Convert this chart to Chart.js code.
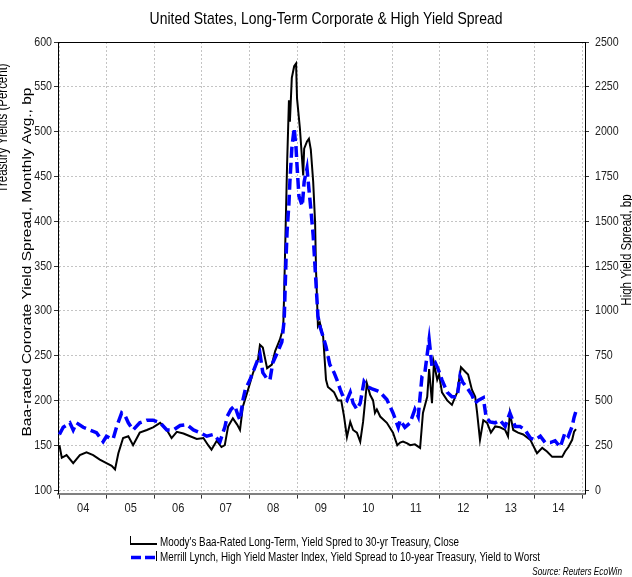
<!DOCTYPE html>
<html>
<head>
<meta charset="utf-8">
<script src="https://cdn.jsdelivr.net/npm/chart.js@4.4.1/dist/chart.umd.min.js"></script>
<style>
  html, body { margin: 0; padding: 0; background: #fff; }
</style>
</head>
<body>
<canvas id="chart" width="632" height="577"></canvas>
<script>
// Moody's Baa long-term spread (left axis, bp)
const baaYears = [
  2004.00, 2004.05, 2004.15, 2004.29, 2004.43, 2004.57, 2004.71, 2004.85, 2004.99,
  2005.10, 2005.17, 2005.24, 2005.34, 2005.45, 2005.55, 2005.69, 2005.84, 2005.97,
  2006.12, 2006.26, 2006.36, 2006.47, 2006.61, 2006.75, 2006.89,
  2007.03, 2007.13, 2007.20, 2007.31, 2007.41, 2007.48, 2007.55, 2007.65, 2007.74, 2007.80, 2007.86, 2007.97,
  2008.07, 2008.18, 2008.22, 2008.28, 2008.37, 2008.47, 2008.54, 2008.64, 2008.71, 2008.73, 2008.75, 2008.79,
  2008.83, 2008.85, 2008.89, 2008.94, 2008.98,
  2009.00, 2009.06, 2009.13, 2009.15, 2009.21, 2009.25, 2009.29, 2009.34, 2009.38, 2009.40, 2009.44, 2009.48,
  2009.55, 2009.61, 2009.65, 2009.72, 2009.78, 2009.86, 2009.93, 2009.99,
  2010.05, 2010.12, 2010.18, 2010.26, 2010.33, 2010.39, 2010.47, 2010.54, 2010.60, 2010.64, 2010.68, 2010.75, 2010.89,
  2011.02, 2011.11, 2011.17, 2011.23, 2011.32, 2011.38, 2011.48, 2011.59, 2011.65, 2011.74, 2011.78, 2011.84,
  2011.88, 2011.95, 2011.99,
  2012.05, 2012.16, 2012.26, 2012.37, 2012.45, 2012.54, 2012.60, 2012.68, 2012.75, 2012.79, 2012.85, 2012.92,
  2013.00, 2013.08, 2013.17, 2013.27, 2013.38, 2013.44, 2013.48, 2013.55, 2013.65, 2013.76, 2013.91,
  2014.05, 2014.16, 2014.26, 2014.37, 2014.47, 2014.58, 2014.64, 2014.71, 2014.79, 2014.83, 2014.87
]
const baaSpread = [
  150, 136, 139, 130, 139, 142, 139, 134, 130,
  127, 123, 141, 158, 160, 150, 164, 167, 170,
  175, 167, 158, 165, 163, 160, 157,
  158, 150, 145, 155, 148, 150, 171, 180, 173, 167, 193, 212,
  230, 246, 262, 259, 236, 240, 255, 268, 281, 321, 369, 462,
  535, 511, 560, 573, 576,
  537, 504, 451, 481, 489, 492, 480, 444, 399, 345, 283, 287,
  271, 223, 215, 212, 209, 200, 200, 182,
  159, 176, 167, 164, 154, 176, 219, 206, 200, 186, 190, 182, 175,
  164, 150, 153, 154, 152, 150, 151, 147, 186, 204, 235, 197,
  242, 223, 229,
  209, 200, 195, 209, 237, 232, 229, 212, 204, 186, 156, 178,
  175, 164, 171, 170, 167, 160, 186, 167, 164, 162, 156,
  141, 147, 143, 137, 137, 137, 143, 148, 156, 165, 168
]

// Merrill Lynch high yield master index spread (right axis, bp)
const hyYears = [
  2004.00, 2004.08, 2004.22, 2004.29, 2004.36, 2004.50, 2004.64, 2004.78, 2004.92, 2004.99,
  2005.06, 2005.13, 2005.20, 2005.31, 2005.38, 2005.45, 2005.55, 2005.69, 2005.84, 2005.97,
  2006.12, 2006.26, 2006.40, 2006.54, 2006.68, 2006.82, 2006.96,
  2007.10, 2007.24, 2007.38, 2007.44, 2007.48, 2007.53, 2007.61, 2007.69, 2007.76, 2007.80, 2007.86, 2007.91,
  2008.01, 2008.12, 2008.22, 2008.28, 2008.37, 2008.43, 2008.49, 2008.60, 2008.68, 2008.73, 2008.77, 2008.79,
  2008.83, 2008.85, 2008.89, 2008.94, 2008.98,
  2009.00, 2009.04, 2009.11, 2009.15, 2009.21, 2009.25, 2009.29, 2009.34, 2009.40, 2009.44, 2009.48,
  2009.55, 2009.61, 2009.69, 2009.78, 2009.84, 2009.91, 2009.97,
  2010.05, 2010.12, 2010.18, 2010.26, 2010.33, 2010.41, 2010.49, 2010.58, 2010.68, 2010.75, 2010.89,
  2011.02, 2011.13, 2011.17, 2011.27, 2011.38, 2011.48, 2011.55, 2011.63, 2011.69, 2011.78, 2011.84,
  2011.91, 2011.97,
  2012.05, 2012.16, 2012.26, 2012.37, 2012.43, 2012.49, 2012.58, 2012.68, 2012.75, 2012.81, 2012.92, 2012.98,
  2013.06, 2013.17, 2013.27, 2013.38, 2013.48, 2013.59, 2013.69, 2013.80, 2013.91,
  2014.01, 2014.12, 2014.22, 2014.33, 2014.43, 2014.54, 2014.64, 2014.71, 2014.79, 2014.83, 2014.87
]
const hySpread = [
  310, 350, 375, 335, 375, 350, 335, 320, 270, 300,
  290, 285, 350, 430, 415, 375, 335, 375, 390, 390,
  375, 335, 335, 360, 365, 335, 320,
  300, 310, 270, 320, 350, 410, 450, 470, 415, 390, 500, 560,
  615, 690, 760, 655, 620, 615, 710, 775, 825, 950, 1300, 1440,
  1600, 1720, 1905, 2020, 1905,
  1810, 1640, 1585, 1720, 1795, 1680, 1570, 1420, 1150, 970, 915,
  855, 800, 700, 655, 615, 560, 520,
  500, 545, 485, 450, 485, 605, 575, 565, 555, 545, 505,
  430, 350, 390, 350, 375, 450, 410, 635, 655, 840, 690,
  710, 675,
  615, 545, 520, 520, 635, 600, 570, 530, 485, 500, 515, 405,
  380, 375, 390, 355, 430, 355, 355, 335, 290,
  280, 300, 265, 265, 275, 240, 320, 300, 355, 405, 440
]

const yearStarts = [2004, 2005, 2006, 2007, 2008, 2009, 2010, 2011, 2012, 2013, 2014, 2015]
const yearLabels = ['04', '05', '06', '07', '08', '09', '10', '11', '12', '13', '14']
const leftTicks = [100, 150, 200, 250, 300, 350, 400, 450, 500, 550, 600]
const rightTicks = [0, 250, 500, 750, 1000, 1250, 1500, 1750, 2000, 2250, 2500]

const FONT = "'Liberation Sans', Arial, sans-serif"
const GRID = '#c4c4c4'

Chart.defaults.font.family = FONT

// titles, tick labels, legend, source line and the top edge of the frame
const decor = {
  id: 'decor',
  afterDraw(chart) {
    const { ctx, chartArea: a, scales } = chart
    ctx.save()
    ctx.strokeStyle = '#000'
    ctx.lineWidth = 1
    ctx.beginPath()
    ctx.moveTo(a.left, a.top + 0.5)
    ctx.lineTo(a.right, a.top + 0.5)
    ctx.stroke()

    ctx.textBaseline = 'middle'

    // narrow-looking text: squeeze the regular face horizontally
    const say = (txt, x, y, size, align, opts = {}) => {
      ctx.save()
      ctx.fillStyle = opts.color || '#000'
      ctx.translate(x, y)
      if (opts.vertical) ctx.rotate(-Math.PI / 2)
      ctx.scale(opts.squeeze || 0.82, opts.tall || 1)
      ctx.textAlign = align
      ctx.font = (opts.italic ? 'italic ' : '') + size + 'px ' + FONT
      ctx.fillText(txt, 0, 0)
      ctx.restore()
    }

    // tick labels placed by the chart's own scales
    yearLabels.forEach((lab, i) => say(lab, scales.x.getPixelForValue(yearStarts[i] + 0.5), 508, 13.5, 'center', { color: '#222' }))
    leftTicks.forEach(v => say(String(v), 52, scales.y.getPixelForValue(v), 13, 'right', { color: '#222' }))
    rightTicks.forEach(v => say(String(v), 595, scales.y1.getPixelForValue(v), 13, 'left', { color: '#222' }))

    say('United States, Long-Term Corporate & High Yield Spread', 326, 19, 17, 'center')
    say('Treasury Yields (Percent)', 3, 128, 14, 'center', { vertical: true })
    say('Baa-rated Cororate Yield Spread, Monthly Avg., bp', 27, 262, 15.5, 'center', { vertical: true, squeeze: 1, tall: 0.86 })
    say('High Yield Spread, bp', 627, 250, 14, 'center', { vertical: true })

    // legend
    const l = chart.data.datasets
    ctx.lineWidth = 1
    ctx.beginPath()
    ctx.moveTo(130.5, 536); ctx.lineTo(130.5, 545)
    ctx.moveTo(156.5, 551); ctx.lineTo(156.5, 561)
    ctx.stroke()
    ctx.lineWidth = 2
    ctx.strokeStyle = l[1].borderColor
    ctx.beginPath(); ctx.moveTo(131, 544); ctx.lineTo(157, 544); ctx.stroke()
    ctx.lineWidth = 3.5
    ctx.strokeStyle = l[0].borderColor
    ctx.setLineDash([10, 4])
    ctx.beginPath(); ctx.moveTo(131, 557.5); ctx.lineTo(156, 557.5); ctx.stroke()
    ctx.setLineDash([])

    say(l[1].label, 160, 543, 12, 'left')
    say(l[0].label, 160, 558, 12, 'left')
    say('Source: Reuters EcoWin', 622, 572, 10, 'right', { italic: true })
    ctx.restore()
  }
}

new Chart(document.getElementById('chart'), {
  type: 'line',
  data: {
    datasets: [
      {
        label: 'Merrill Lynch, High Yield Master Index, Yield Spread to 10-year Treasury, Yield to Worst',
        data: hyYears.map((x, i) => ({ x, y: hySpread[i] })),
        yAxisID: 'y1',
        borderColor: '#0000ff',
        borderWidth: 3.5,
        borderDash: [11, 5],
        pointRadius: 0,
        tension: 0,
        order: 1
      },
      {
        label: "Moody's Baa-Rated Long-Term, Yield Spred to 30-yr Treasury, Close",
        data: baaYears.map((x, i) => ({ x, y: baaSpread[i] })),
        yAxisID: 'y',
        borderColor: '#000000',
        borderWidth: 2,
        pointRadius: 0,
        tension: 0,
        order: 2
      }
    ]
  },
  options: {
    responsive: false,
    animation: false,
    devicePixelRatio: 1,
    layout: { padding: { top: 42, left: 0, right: 0, bottom: 0 } },
    plugins: {
      legend: { display: false },
      tooltip: { enabled: false },
      title: { display: false }
    },
    scales: {
      x: {
        type: 'linear',
        min: 2003.97,
        max: 2015.06,
        afterBuildTicks: (scale) => { scale.ticks = yearStarts.map(v => ({ value: v })) },
        afterFit: (scale) => { scale.height = 83.4 },
        ticks: { display: false, autoSkip: false, maxRotation: 0 },
        grid: { color: GRID, tickColor: '#333', tickLength: 5 },
        border: { color: '#808080', width: 2, dash: [2, 2] }
      },
      y: {
        position: 'left',
        min: 96,
        max: 600,
        afterBuildTicks: (scale) => { scale.ticks = leftTicks.map(v => ({ value: v })) },
        afterFit: (scale) => { scale.width = 58 },
        ticks: { display: false },
        grid: { color: GRID, tickColor: '#333', tickLength: 4 },
        border: { color: '#000', width: 1, dash: [2, 2] }
      },
      y1: {
        position: 'right',
        min: -20,
        max: 2500,
        afterBuildTicks: (scale) => { scale.ticks = rightTicks.map(v => ({ value: v })) },
        afterFit: (scale) => { scale.width = 47 },
        ticks: { display: false },
        grid: { drawOnChartArea: false, tickColor: '#333', tickLength: 4 },
        border: { color: '#000', width: 1 }
      }
    }
  },
  plugins: [decor]
})
</script>
</body>
</html>
